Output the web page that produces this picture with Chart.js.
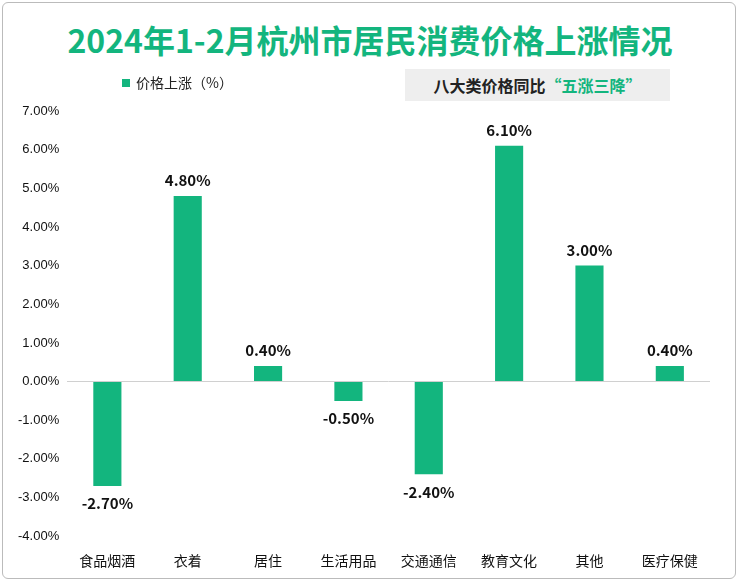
<!DOCTYPE html>
<html><head><meta charset="utf-8">
<script src="https://cdn.jsdelivr.net/npm/chart.js@4"></script>
<style>
body{margin:0;background:#fff;font-family:"Noto Sans CJK SC",sans-serif;}
#wrap{position:absolute;left:2px;top:2px;width:734px;height:577px;border:1px solid #bbb;border-radius:6px;box-sizing:border-box;}
#title{position:absolute;left:0;width:740px;top:16px;text-align:center;font-size:32px;font-weight:bold;color:#13B57E;}
#box{position:absolute;left:405px;top:69px;width:265px;height:32px;background:#eeeeee;font-size:16px;font-weight:bold;line-height:32px;text-align:center;color:#222;}
#box span{color:#13B57E;}
#leg{position:absolute;left:122px;top:72px;font-size:14px;color:#222;}
#leg i{display:inline-block;width:8px;height:8px;background:#13B57E;margin-right:6px;vertical-align:1px;}
#c{position:absolute;left:0;top:0;}
</style></head><body>
<div id="wrap"></div>
<div id="title">2024年1-2月杭州市居民消费价格上涨情况</div>
<div id="box">八大类价格同比<span>“五涨三降”</span></div>
<canvas id="c" width="740" height="583"></canvas>
<div id="leg"><i></i><span id="legt"></span></div>
<script>
const categories=["食品烟酒","衣着","居住","生活用品","交通通信","教育文化","其他","医疗保健"];
const values=[-2.7,4.8,0.4,-0.5,-2.4,6.1,3.0,0.4];
const seriesName="价格上涨（%）";
document.getElementById("legt").textContent=seriesName;
const green="#13B57E";
const labelPlugin={id:"lbl",afterDatasetsDraw(ch){const ctx=ch.ctx;const m=ch.getDatasetMeta(0);ctx.save();ctx.font="bold 15px 'Noto Sans CJK SC',sans-serif";ctx.fillStyle="#111";ctx.textAlign="center";
m.data.forEach((b,i)=>{const v=values[i];const t=v.toFixed(2)+"%";if(v>=0){ctx.textBaseline="bottom";ctx.fillText(t,b.x,b.y-8);}else{ctx.textBaseline="top";ctx.fillText(t,b.x,b.y+10);}});ctx.restore();}};
new Chart(document.getElementById("c"),{type:"bar",
data:{labels:categories,datasets:[{label:seriesName,data:values,backgroundColor:green,barPercentage:0.35,categoryPercentage:1}]},
options:{responsive:false,animation:false,
layout:{padding:{left:10,right:30,top:111,bottom:6}},
plugins:{legend:{display:false},tooltip:{enabled:false}},
scales:{x:{grid:{display:false},border:{display:false},ticks:{font:{size:14,family:"Noto Sans CJK SC"},color:"#111",padding:8}},
y:{min:-4,max:7,ticks:{stepSize:1,callback:v=>v.toFixed(2)+"%",font:{size:13},color:"#111",padding:8},border:{display:false},
grid:{color:c=>c.tick.value===0?"#d0d0d0":"rgba(0,0,0,0)",drawTicks:false}}}},
plugins:[labelPlugin]});
</script></body></html>
